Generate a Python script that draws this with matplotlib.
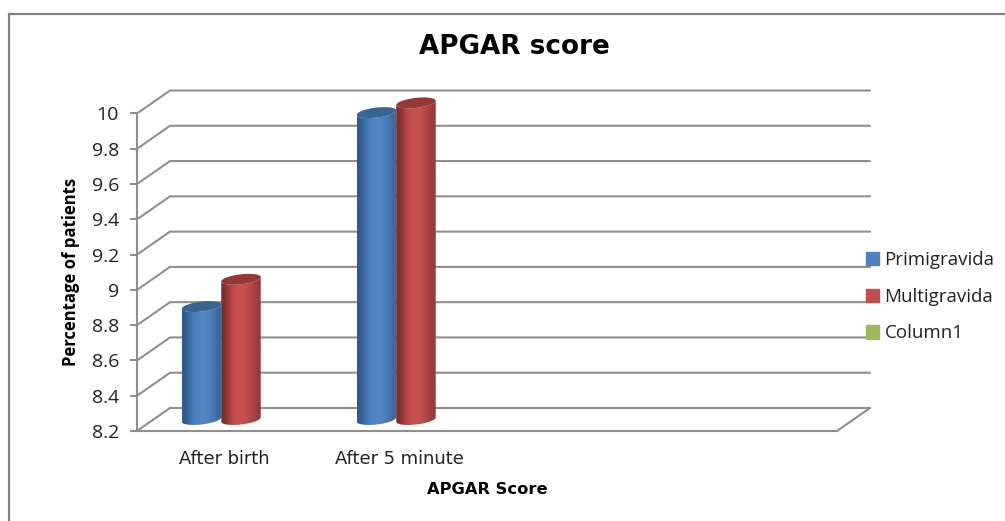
import matplotlib
matplotlib.use("Agg")
import matplotlib.pyplot as plt
import numpy as np
from matplotlib.colors import to_rgb
from matplotlib.patches import Patch, Polygon, Rectangle

categories = ["After birth", "After 5 minute", "", ""]
primigravida = [8.84, 9.94]
multigravida = [8.995, 9.995]
column1 = []
y_ticks = [8.2, 8.4, 8.6, 8.8, 9, 9.2, 9.4, 9.6, 9.8, 10]
series_names = ["Primigravida", "Multigravida", "Column1"]

W, H = 1005, 521
GRID = "#8f8f8f"
TEXT = "#222222"
FONT = "Open Sans"
WIDE = "DejaVu Sans"

# floor/wall depth in data units (33px, 23px on screen)
DEPTH_X = 33 / 175
DEPTH_Y = 23 / 176.4
BAR_W = 39.5 / 175
ELL_H = 5 / 176.4
ELL_W = BAR_W / 2
TILT = 0.11


def ring(cx, cy, t):
    px = np.cos(t) * ELL_W
    py = np.sin(t) * ELL_H + px * TILT * 175 / 176.4
    return cx + px, cy + py


def cylinder(ax, cx, val, base, shades, top_color, z):
    grad = np.array([[to_rgb(c) for c in shades]])
    im = ax.imshow(grad, extent=[cx - ELL_W, cx + ELL_W, base - 0.1, val + 0.1],
                   aspect="auto", interpolation="bicubic", zorder=z)
    t = np.linspace(np.pi, 2 * np.pi, 40)
    bx, by = ring(cx, base, t)
    tx, ty = ring(cx, val, t[::-1])
    body = Polygon(np.r_[np.c_[bx, by], np.c_[tx, ty]], closed=True,
                   transform=ax.transData, fill=False, edgecolor="none")
    ax.add_patch(body)
    im.set_clip_path(body)
    # tops of the tallest bars stick out above the axes box
    im.set_clip_box(fig.bbox)
    t = np.linspace(0, 2 * np.pi, 80)
    ex, ey = ring(cx, val, t)
    ax.add_patch(Polygon(np.c_[ex, ey], closed=True, facecolor=top_color,
                         edgecolor="none", zorder=z + 0.1, clip_on=False))


fig = plt.figure(figsize=(W / 100, H / 100), dpi=100, facecolor="white")

# outer chart frame runs off the image on the right and bottom
fig.add_artist(Rectangle((9 / W, -0.1), 1.1, (H - 14) / H + 0.1, transform=fig.transFigure,
                         fill=False, edgecolor="#808080", linewidth=1.6))

ax = fig.add_axes([137 / W, 1 - 431 / H, 700 / W, (431 - 113.5) / H], facecolor="none")
ax.set_xlim(-0.5, 3.5)
ax.set_ylim(8.2, 10)

x0, x1 = ax.get_xlim()
line = dict(color=GRID, lw=1.5, clip_on=False, zorder=1, solid_capstyle="round")
for v in y_ticks:
    ax.plot([x0, x0 + DEPTH_X, x1 + DEPTH_X],
            [v, v + DEPTH_Y, v + DEPTH_Y], **line)
ax.plot([x1, x1 + DEPTH_X], [8.2, 8.2 + DEPTH_Y], **line)

blue = ["#2f5888", "#4273ad", "#4f82c0", "#5387c6", "#5084c2", "#4678b0", "#3b6698"]
red = ["#752c2b", "#a8413f", "#c54f4c", "#c9524f", "#c24e4b", "#ad4441", "#943b39"]
floor_mid = DEPTH_Y / 2
shift = DEPTH_X / 2
base = 8.2 + floor_mid
for i, (a, b) in enumerate(zip(primigravida, multigravida)):
    cylinder(ax, i - BAR_W + shift, a + floor_mid, base, blue, "#3a6390", 3)
    cylinder(ax, i + shift, b + floor_mid, base, red, "#953735", 4)
ax.set_xlim(x0, x1)
ax.set_ylim(8.2, 10)

ax.spines[["top", "right"]].set_visible(False)
ax.spines[["left", "bottom"]].set_color(GRID)
ax.spines[["left", "bottom"]].set_linewidth(1.5)
ax.set_xticks([0, 1], categories[:2], fontfamily=WIDE, fontsize=12.9, color=TEXT)
ax.set_yticks(y_ticks, [f"{v:g}" for v in y_ticks], fontfamily=FONT, fontsize=14, color=TEXT)
ax.tick_params(axis="x", length=0, pad=14)
ax.tick_params(axis="y", length=5, width=1.5, color=GRID, pad=8)
ax.set_xlabel("APGAR Score", fontfamily=WIDE, fontsize=11.7, fontweight="bold", color="black", labelpad=9.5)
ax.set_ylabel("Percentage of patients", fontfamily=FONT, fontsize=12, fontweight="bold", color="black", labelpad=8)

fig.text(514 / W, 1 - 47 / H, "APGAR score", ha="center", va="center",
         fontfamily=WIDE, fontsize=18.9, fontweight="bold", color="black")

handles = [Patch(color=c) for c in ["#4f81bd", "#c0504d", "#9bbb59"]]
ax.legend(handles, series_names, loc="upper left", bbox_to_anchor=(866 / W, 1 - 251 / H),
          bbox_transform=fig.transFigure, frameon=False, prop={"family": FONT, "size": 13.5},
          labelcolor=TEXT, handlelength=0.7, handleheight=0.7, handletextpad=0.29,
          labelspacing=1.0, borderpad=0, borderaxespad=0)

fig.savefig("out.png", dpi=100)
